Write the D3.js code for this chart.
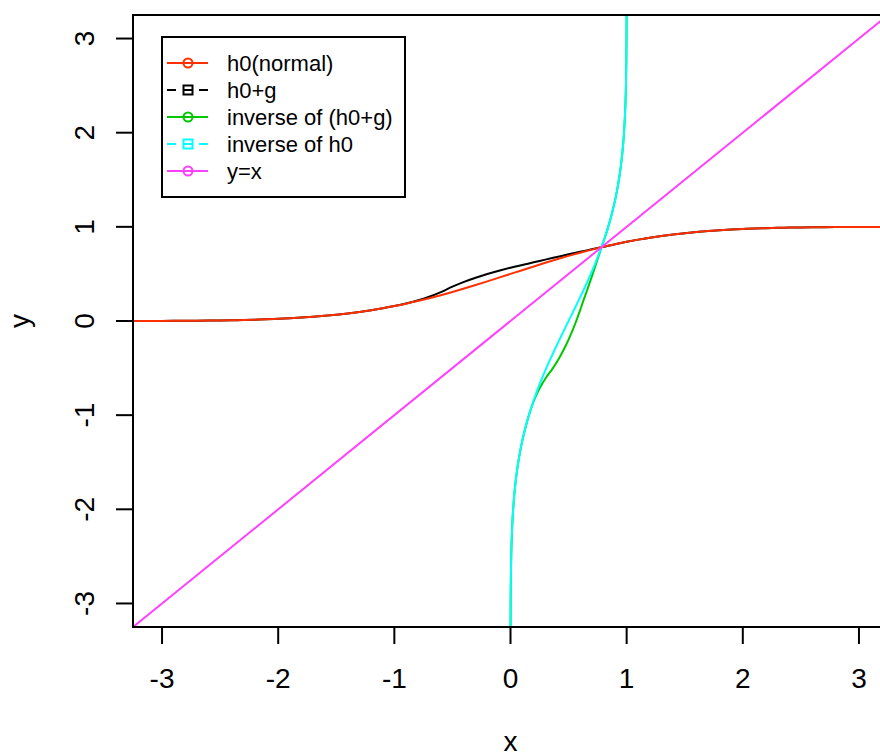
<!DOCTYPE html>
<html>
<head>
<meta charset="utf-8">
<script src="https://cdn.jsdelivr.net/npm/d3@7"></script>
<style>
  body { margin: 0; background: #fff; }
  svg text { font-family: "Liberation Sans", Arial, Helvetica, sans-serif; fill: #000; }
</style>
</head>
<body>
<div id="chart"></div>
<script>
var svgWidth = 880, svgHeight = 756;

// grid of x values the curves were sampled at
var xGrid = [-3.3,-3.2,-3.1,-3.0,-2.9,-2.8,-2.7,-2.6,-2.5,-2.4,
  -2.3,-2.2,-2.1,-2.0,-1.9,-1.8,-1.7,-1.6,-1.5,-1.4,
  -1.3,-1.2,-1.1,-1.0,-0.9,-0.8,-0.7,-0.6,-0.5,-0.4,
  -0.3,-0.2,-0.1,0,
  0.1,0.2,0.3,0.4,0.5,0.6,0.7,0.8,0.9,1.0,
  1.1,1.2,1.3,1.4,1.5,1.6,1.7,1.8,1.9,2.0,
  2.1,2.2,2.3,2.4,2.5,2.6,2.7,2.8,2.9,3.0,
  3.1,3.2,3.3];

// h0 (normal cdf)
var h0Vals = [0.0005,0.0007,0.0010,0.0013,0.0019,0.0026,0.0035,0.0047,0.0062,0.0082,
  0.0107,0.0139,0.0179,0.0228,0.0287,0.0359,0.0446,0.0548,0.0668,0.0808,
  0.0968,0.1151,0.1357,0.1587,0.1841,0.2119,0.2420,0.2743,0.3085,0.3446,
  0.3821,0.4207,0.4602,0.5,
  0.5398,0.5793,0.6179,0.6554,0.6915,0.7257,0.7580,0.7881,0.8159,0.8413,
  0.8643,0.8849,0.9032,0.9192,0.9332,0.9452,0.9554,0.9641,0.9713,0.9772,
  0.9821,0.9861,0.9893,0.9918,0.9938,0.9953,0.9965,0.9974,0.9981,0.9987,
  0.9990,0.9993,0.9995];

// h0+g (bump between -0.9 and 0.8)
var h0gVals = [0.0005,0.0007,0.0010,0.0013,0.0019,0.0026,0.0035,0.0047,0.0062,0.0082,
  0.0107,0.0139,0.0179,0.0228,0.0287,0.0359,0.0446,0.0548,0.0668,0.0808,
  0.0968,0.1151,0.1357,0.1587,0.1851,0.217,0.257,0.307,0.365,0.416,
  0.460,0.499,0.534,0.566,
  0.595,0.623,0.652,0.680,0.708,0.735,0.761,0.7881,0.8159,0.8413,
  0.8643,0.8849,0.9032,0.9192,0.9332,0.9452,0.9554,0.9641,0.9713,0.9772,
  0.9821,0.9861,0.9893,0.9918,0.9938,0.9953,0.9965,0.9974,0.9981,0.9987,
  0.9990,0.9993,0.9995];

// y = x line end points
var identityEnds = [-4, 4];

var xTicks = [-3, -2, -1, 0, 1, 2, 3];
var yTicks = [-3, -2, -1, 0, 1, 2, 3];

var legendLabels = ["h0(normal)", "h0+g", "inverse of (h0+g)", "inverse of h0", "y=x"];
var legendColors = ["#ff3000", "#000000", "#00c800", "#00ffff", "#ff40ff"];
var legendSymbols = ["circle", "square", "circle", "square", "circle"];
var legendDashed = [false, true, false, true, false];

var margin = {left: 133, top: 15, right: 888, bottom: 627};

var svg = d3.select("#chart")
  .append("svg")
  .attr("width", svgWidth)
  .attr("height", svgHeight);

var x = d3.scaleLinear().domain([-3.25, 3.25]).range([margin.left, margin.right]);
var y = d3.scaleLinear().domain([-3.25, 3.25]).range([margin.bottom, margin.top]);

svg.append("clipPath").attr("id", "plotclip")
  .append("rect")
  .attr("x", margin.left).attr("y", margin.top)
  .attr("width", margin.right - margin.left)
  .attr("height", margin.bottom - margin.top);

var plot = svg.append("g").attr("clip-path", "url(#plotclip)");

var line = d3.line()
  .x(d => x(d[0]))
  .y(d => y(d[1]))
  .curve(d3.curveCatmullRom);

var h0Pts = xGrid.map((v, i) => [v, h0Vals[i]]);
var h0gPts = xGrid.map((v, i) => [v, h0gVals[i]]);
// inverses: same values with the axes swapped
var invH0Pts = xGrid.map((v, i) => [h0Vals[i], v]);
var invH0gPts = xGrid.map((v, i) => [h0gVals[i], v]);
var identityPts = identityEnds.map(v => [v, v]);

var series = [
  {pts: h0gPts, col: legendColors[1]},
  {pts: h0Pts, col: legendColors[0]},
  {pts: invH0gPts, col: legendColors[2]},
  {pts: invH0Pts, col: legendColors[3]},
  {pts: identityPts, col: legendColors[4]}
];

plot.selectAll("path.curve")
  .data(series)
  .enter()
  .append("path")
  .attr("class", "curve")
  .attr("d", d => line(d.pts))
  .attr("fill", "none")
  .attr("stroke", d => d.col)
  .attr("stroke-width", 2);

// box
svg.append("rect")
  .attr("x", margin.left).attr("y", margin.top)
  .attr("width", margin.right - margin.left)
  .attr("height", margin.bottom - margin.top)
  .attr("fill", "none")
  .attr("stroke", "#000")
  .attr("stroke-width", 2);

// x axis
var xAxis = svg.append("g");
xAxis.selectAll("line")
  .data(xTicks)
  .enter()
  .append("line")
  .attr("x1", d => x(d)).attr("x2", d => x(d))
  .attr("y1", margin.bottom).attr("y2", margin.bottom + 17)
  .attr("stroke", "#000").attr("stroke-width", 2);
xAxis.selectAll("text")
  .data(xTicks)
  .enter()
  .append("text")
  .attr("x", d => x(d))
  .attr("y", 688)
  .attr("text-anchor", "middle")
  .style("font-size", "28px")
  .text(d => d);

// y axis
var yAxis = svg.append("g");
yAxis.selectAll("line")
  .data(yTicks)
  .enter()
  .append("line")
  .attr("x1", margin.left - 17).attr("x2", margin.left)
  .attr("y1", d => y(d)).attr("y2", d => y(d))
  .attr("stroke", "#000").attr("stroke-width", 2);
yAxis.selectAll("text")
  .data(yTicks)
  .enter()
  .append("text")
  .attr("transform", d => "translate(94," + y(d) + ") rotate(-90)")
  .attr("text-anchor", "middle")
  .style("font-size", "28px")
  .text(d => d);

// axis titles
svg.append("text")
  .attr("x", x(0))
  .attr("y", 751)
  .attr("text-anchor", "middle")
  .style("font-size", "28px")
  .text("x");
svg.append("text")
  .attr("transform", "translate(29," + y(0) + ") rotate(-90)")
  .attr("text-anchor", "middle")
  .style("font-size", "28px")
  .text("y");

// legend
var legend = svg.append("g");
legend.append("rect")
  .attr("x", 162).attr("y", 37)
  .attr("width", 243).attr("height", 160)
  .attr("fill", "#fff")
  .attr("stroke", "#000")
  .attr("stroke-width", 2);

var rows = legend.selectAll("g.row")
  .data(legendLabels)
  .enter()
  .append("g")
  .attr("class", "row")
  .attr("transform", (d, i) => "translate(0," + (63 + i * 27) + ")");

rows.append("line")
  .attr("x1", 167).attr("x2", 208)
  .attr("y1", 0).attr("y2", 0)
  .attr("stroke", (d, i) => legendColors[i])
  .attr("stroke-width", 2)
  .attr("stroke-dasharray", (d, i) => legendDashed[i] ? "9,7" : null);

rows.each(function(d, i) {
  var g = d3.select(this);
  if (legendSymbols[i] == "circle") {
    g.append("circle")
      .attr("cx", 188).attr("cy", 0).attr("r", 4.5)
      .attr("fill", "none")
      .attr("stroke", legendColors[i])
      .attr("stroke-width", 2);
  } else {
    g.append("rect")
      .attr("x", 183.5).attr("y", -4.5)
      .attr("width", 9).attr("height", 9)
      .attr("fill", "none")
      .attr("stroke", legendColors[i])
      .attr("stroke-width", 2);
  }
});

rows.append("text")
  .attr("x", 227)
  .attr("y", 8)
  .style("font-size", "22px")
  .text(d => d);
</script>
</body>
</html>
